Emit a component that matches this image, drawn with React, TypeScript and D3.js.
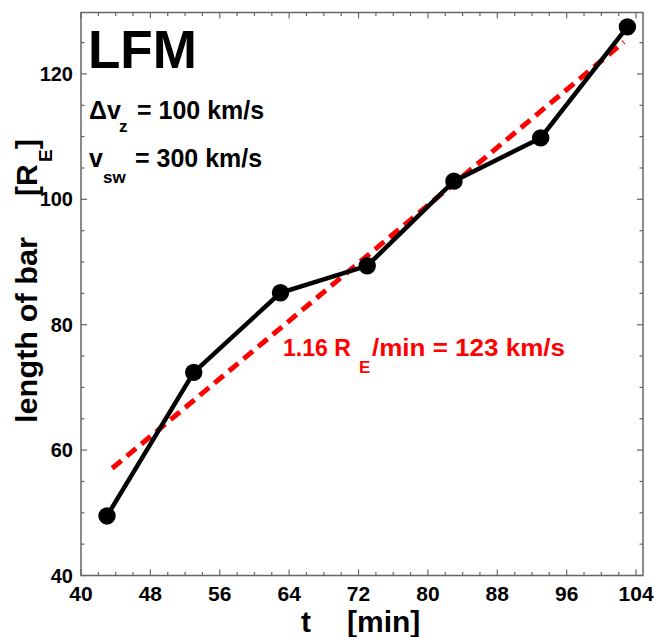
import React from "react";
import * as d3 from "d3";

const times = [43, 53, 63, 73, 83, 93, 103];
const lengths = [49.5, 72.4, 85.1, 89.4, 102.9, 109.8, 127.5];
const fitTimes = [43.6, 102.6];
const fitLengths = [57.1, 125.1];
const xTicks = [40, 48, 56, 64, 72, 80, 88, 96, 104];
const yTicks = [40, 60, 80, 100, 120];

const W = 654;
const H = 637;
const L = 81, R = 643, T = 12.5, B = 575.5;

export default function App() {
  const x = d3.scaleLinear().domain([40, 104.8]).range([L, R]);
  const y = d3.scaleLinear().domain([40, 129.8]).range([B, T]);
  const xMinor = d3.range(40, 105, 2).filter((v) => v % 8 !== 0);
  const yMinor = d3.range(40, 130, 5).filter((v) => v % 20 !== 0);

  const line = d3
    .line<number>()
    .x((_, i) => x(times[i]))
    .y((d) => y(d));
  const fitLine = d3
    .line<number>()
    .x((_, i) => x(fitTimes[i]))
    .y((d) => y(d));

  const axisColor = "#666";
  const font = "'Liberation Sans', Arial, Helvetica, sans-serif";
  const MAJ = 6, MIN = 3.5;

  return (
    <svg
      width={W}
      height={H}
      style={{ position: "absolute", left: 0, top: 0, background: "#fff" }}
      fontFamily={font}
      fontWeight="bold"
    >
      <rect x={0} y={0} width={W} height={H} fill="#fff" />
      {/* frame */}
      <rect x={L} y={T} width={R - L} height={B - T} fill="none" stroke={axisColor} strokeWidth={1.5} />
      {/* x ticks */}
      {xTicks.map((t) => (
        <g key={"xt" + t}>
          <line x1={x(t)} x2={x(t)} y1={B} y2={B - MAJ} stroke={axisColor} strokeWidth={1.2} />
          <line x1={x(t)} x2={x(t)} y1={T} y2={T + MAJ} stroke={axisColor} strokeWidth={1.2} />
          <text x={x(t)} y={601} fontSize={21} textAnchor="middle" fill="#000">
            {t}
          </text>
        </g>
      ))}
      {xMinor.map((t) => (
        <g key={"xm" + t}>
          <line x1={x(t)} x2={x(t)} y1={B} y2={B - MIN} stroke={axisColor} strokeWidth={1.2} />
          <line x1={x(t)} x2={x(t)} y1={T} y2={T + MIN} stroke={axisColor} strokeWidth={1.2} />
        </g>
      ))}
      {/* y ticks */}
      {yTicks.map((t) => (
        <g key={"yt" + t}>
          <line x1={L} x2={L + MAJ} y1={y(t)} y2={y(t)} stroke={axisColor} strokeWidth={1.2} />
          <line x1={R} x2={R - MAJ} y1={y(t)} y2={y(t)} stroke={axisColor} strokeWidth={1.2} />
          <text x={73} y={y(t) + 7} fontSize={20} textAnchor="end" fill="#000">
            {t}
          </text>
        </g>
      ))}
      {yMinor.map((t) => (
        <g key={"ym" + t}>
          <line x1={L} x2={L + MIN} y1={y(t)} y2={y(t)} stroke={axisColor} strokeWidth={1.2} />
          <line x1={R} x2={R - MIN} y1={y(t)} y2={y(t)} stroke={axisColor} strokeWidth={1.2} />
        </g>
      ))}

      {/* fit line */}
      <path
        d={fitLine(fitLengths) || ""}
        fill="none"
        stroke="#ff0000"
        strokeWidth={5}
        strokeDasharray="12 7"
      />
      {/* data */}
      <path d={line(lengths) || ""} fill="none" stroke="#000" strokeWidth={4.5} />
      {lengths.map((v, i) => (
        <circle key={"c" + i} cx={x(times[i])} cy={y(v)} r={8.7} fill="#000" />
      ))}

      {/* texts inside */}
      <text x={88} y={68} fontSize={53} fill="#000">LFM</text>
      <text x={89} y={119} fontSize={25} fill="#000">Δv</text>
      <text x={119} y={132} fontSize={17} fill="#000">z</text>
      <text x={137} y={119} fontSize={25} fill="#000">= 100 km/s</text>
      <text x={89} y={167} fontSize={25} fill="#000">v</text>
      <text x={103} y={183} fontSize={17} fill="#000">sw</text>
      <text x={135} y={167} fontSize={25} fill="#000">= 300 km/s</text>

      <text x={283} y={356} fontSize={23} fill="#ff0000">1.16 R</text>
      <text x={359} y={373} fontSize={17} fill="#ff0000">E</text>
      <text x={372} y={356} fontSize={23} fill="#ff0000" textLength={193} lengthAdjust="spacingAndGlyphs">/min = 123 km/s</text>

      {/* axis labels */}
      <text x={301} y={632} fontSize={30} fill="#000">t</text>
      <text x={347} y={632} fontSize={30} fill="#000">[min]</text>

      <text transform="translate(37,423) rotate(-90)" fontSize={30} fill="#000" textLength={186} lengthAdjust="spacingAndGlyphs">
        length of bar
      </text>
      <text transform="translate(37,196) rotate(-90)" fontSize={30} fill="#000">[R</text>
      <text transform="translate(52,162) rotate(-90)" fontSize={19} fill="#000">E</text>
      <text transform="translate(37,149) rotate(-90)" fontSize={30} fill="#000">]</text>
    </svg>
  );
}
